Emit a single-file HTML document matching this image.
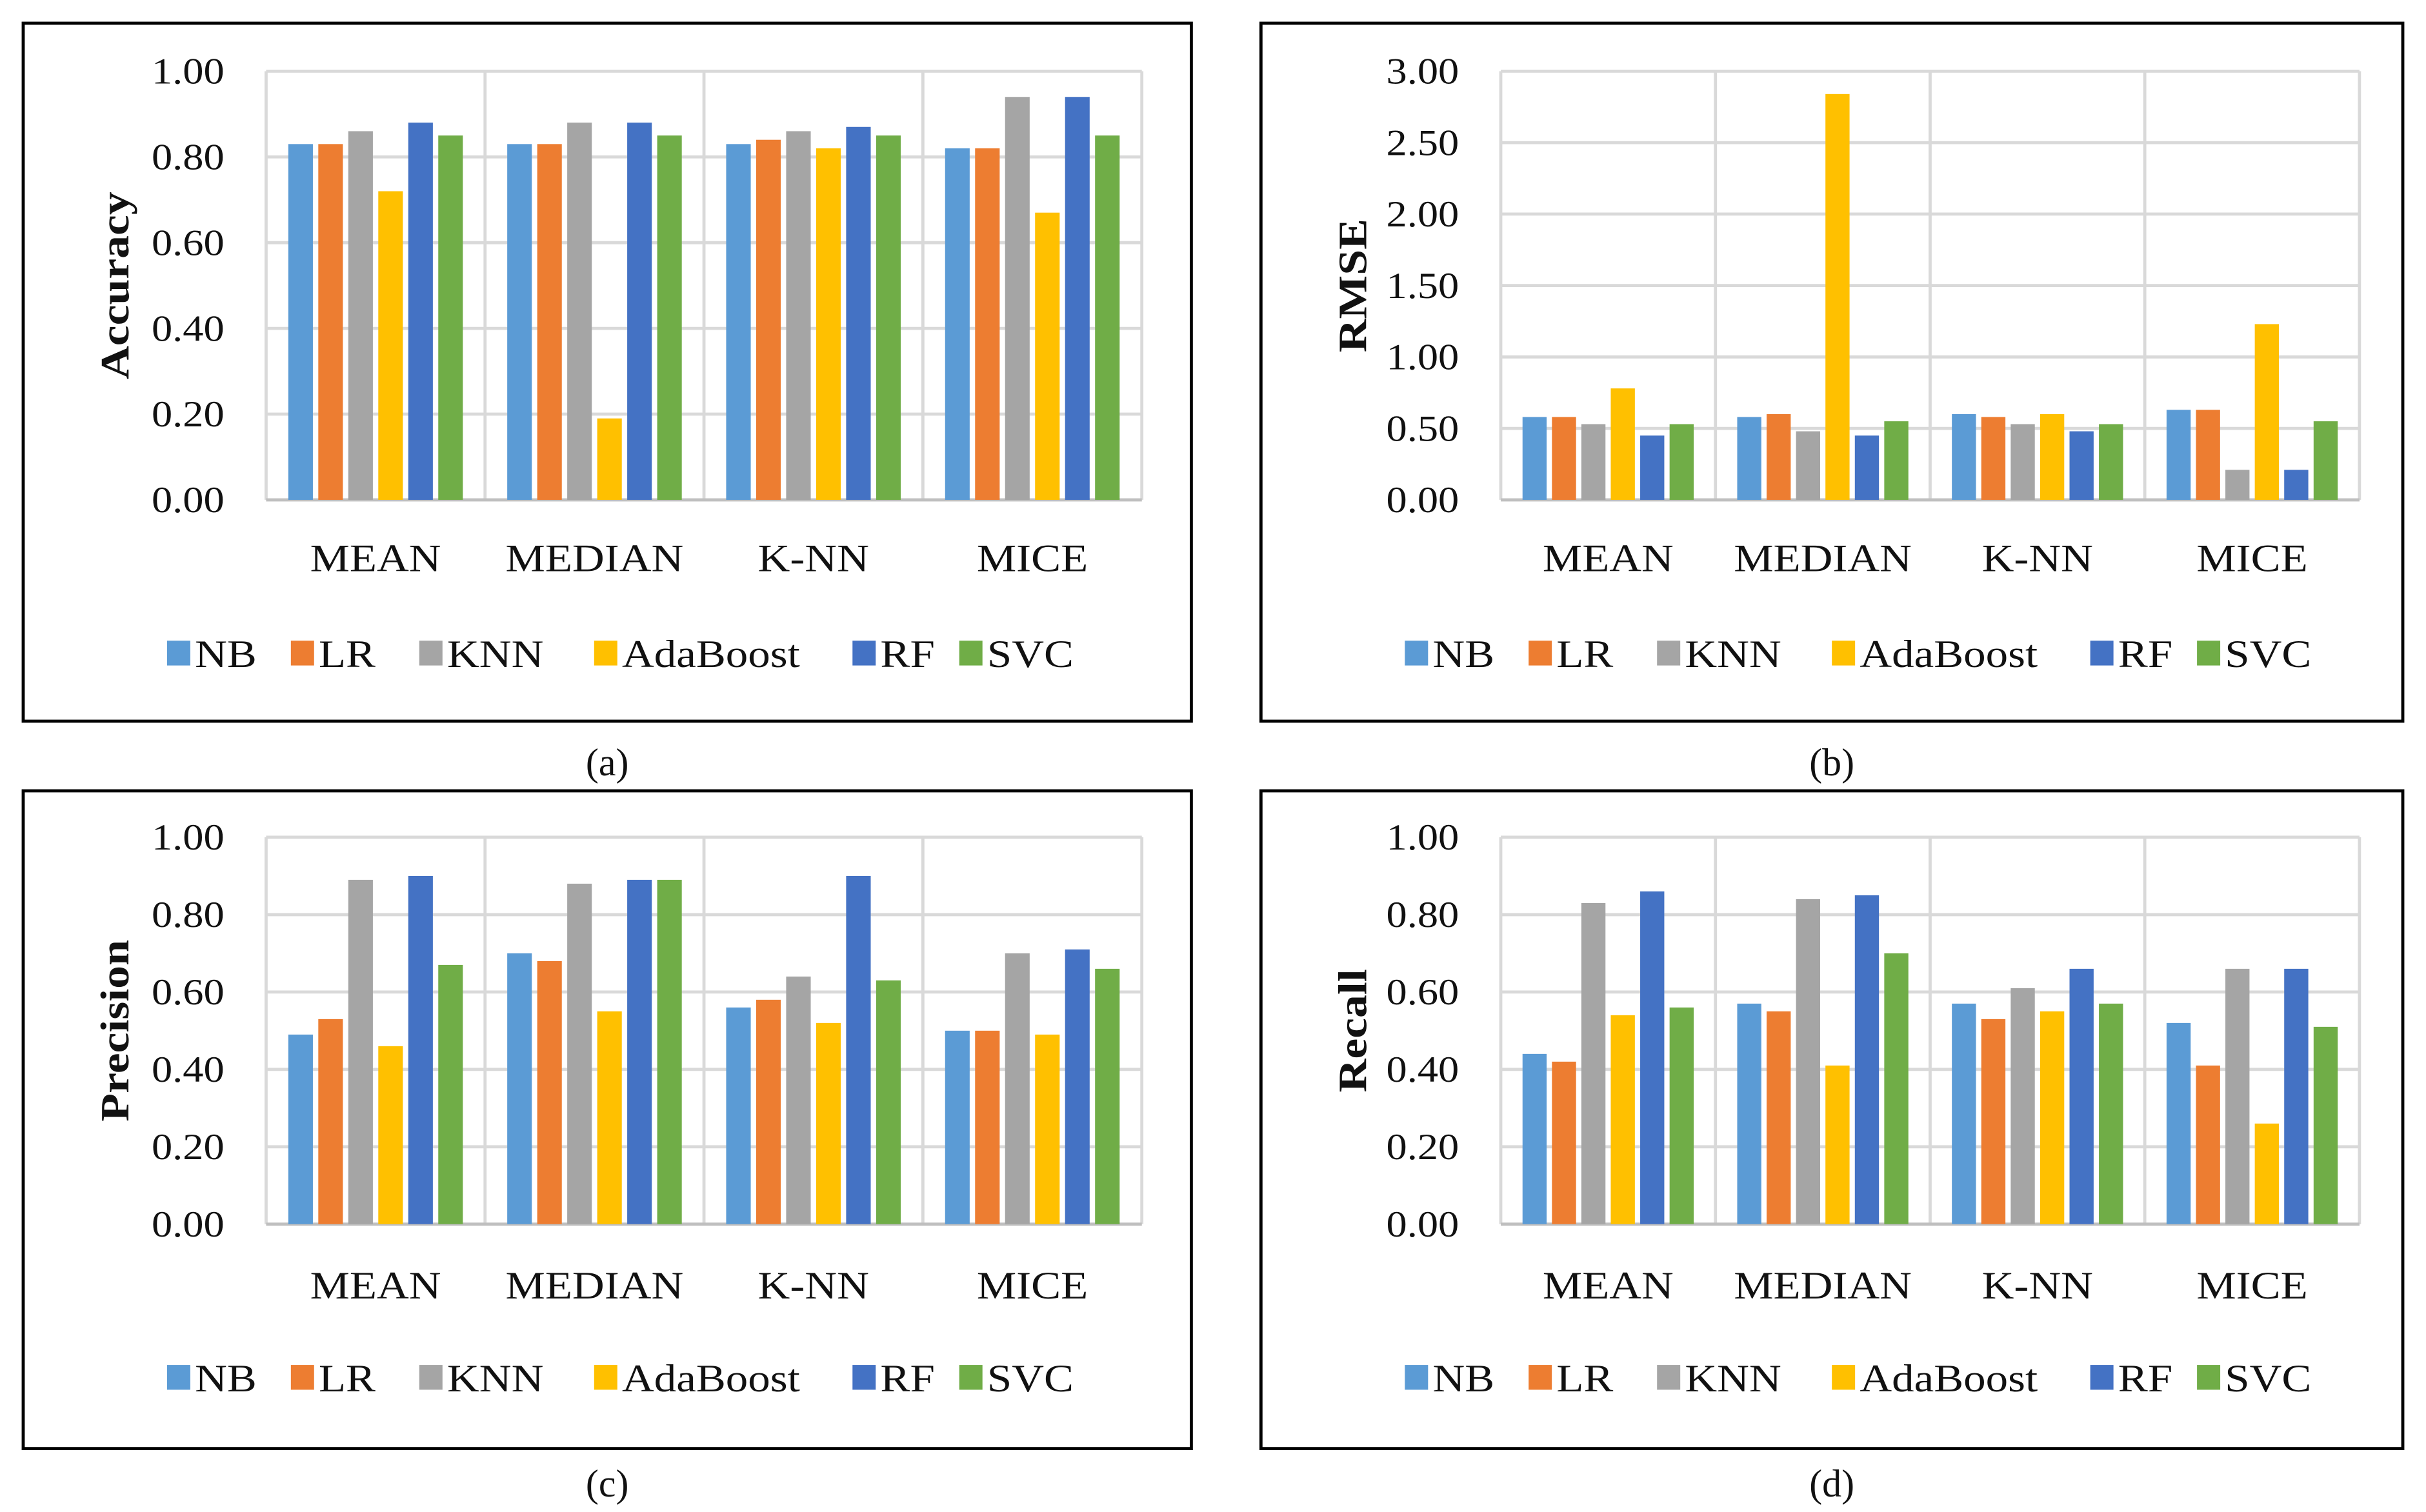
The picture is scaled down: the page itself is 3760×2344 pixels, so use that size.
<!DOCTYPE html>
<html><head><meta charset="utf-8"><style>
html,body{margin:0;padding:0;background:#fff;}
svg{display:block;}
text{font-family:"Liberation Serif",serif;fill:#111;}
</style></head><body>
<svg id="fig" width="3760" height="2344" viewBox="0 0 1568 977" preserveAspectRatio="none" xmlns="http://www.w3.org/2000/svg"></svg>
<script>
const categories = ["MEAN","MEDIAN","K-NN","MICE"];
const seriesNames = ["NB","LR","KNN","AdaBoost","RF","SVC"];
const seriesColors = ["#5b9bd5","#ed7d31","#a5a5a5","#ffc000","#4472c4","#70ad47"];
const accuracyValues = [[0.83,0.83,0.86,0.72,0.88,0.85],[0.83,0.83,0.88,0.19,0.88,0.85],[0.83,0.84,0.86,0.82,0.87,0.85],[0.82,0.82,0.94,0.67,0.94,0.85]];
const rmseValues = [[0.58,0.58,0.53,0.78,0.45,0.53],[0.58,0.60,0.48,2.84,0.45,0.55],[0.60,0.58,0.53,0.60,0.48,0.53],[0.63,0.63,0.21,1.23,0.21,0.55]];
const precisionValues = [[0.49,0.53,0.89,0.46,0.90,0.67],[0.70,0.68,0.88,0.55,0.89,0.89],[0.56,0.58,0.64,0.52,0.90,0.63],[0.50,0.50,0.70,0.49,0.71,0.66]];
const recallValues = [[0.44,0.42,0.83,0.54,0.86,0.56],[0.57,0.55,0.84,0.41,0.85,0.70],[0.57,0.53,0.61,0.55,0.66,0.57],[0.52,0.41,0.66,0.26,0.66,0.51]];
const unitTicks = ["0.00","0.20","0.40","0.60","0.80","1.00"];
const rmseTicks = ["0.00","0.50","1.00","1.50","2.00","2.50","3.00"];

const NS="http://www.w3.org/2000/svg";
const svg=document.getElementById('fig');
function el(tag,attrs,parent){const e=document.createElementNS(NS,tag);for(const k in attrs)e.setAttribute(k,attrs[k]);(parent||svg).appendChild(e);return e;}
function widen(t,f){const L=t.getComputedTextLength();if(L>0){t.setAttribute('textLength',(L*f).toFixed(1));t.setAttribute('lengthAdjust','spacingAndGlyphs');}}

const panels=[
 {id:'accuracy',title:'Accuracy',cap:'(a)',data:accuracyValues,ticks:unitTicks,max:1,box:[15,15,755,451],plot:[172,46,738,323],catY:369,legY:422,capY:501},
 {id:'rmse',title:'RMSE',cap:'(b)',data:rmseValues,ticks:rmseTicks,max:3,box:[815,15,738,451],plot:[970,46,1525,323],catY:369,legY:422,capY:501},
 {id:'precision',title:'Precision',cap:'(c)',data:precisionValues,ticks:unitTicks,max:1,box:[15,511,755,425],plot:[172,541,738,791],catY:839,legY:890,capY:967},
 {id:'recall',title:'Recall',cap:'(d)',data:recallValues,ticks:unitTicks,max:1,box:[815,511,738,425],plot:[970,541,1525,791],catY:839,legY:890,capY:967}
];
const legOff=[93,173,256,369,536,605];

panels.forEach(p=>{
  const g=el('g',{});
  
  
  const [bx,by,bw,bh]=p.box;
  const frame=el('rect',{x:bx,y:by,width:bw,height:bh,fill:'none',stroke:'#000','stroke-width':2},g);
  
  
  const [x0,y0,x1,y1]=p.plot;
  const yScale=v=>y1-(v/p.max)*(y1-y0);
  const gw=(x1-x0)/categories.length;
  const xScale=(ci,si)=>{const slot=gw*0.137;const off=(gw-6*slot)/2;return x0+ci*gw+off+si*slot+slot*0.09;};
  const bwid=gw*0.137*0.82;
  p.ticks.forEach((t,i)=>{
    const v=parseFloat(t);const y=yScale(v);
    const ln=el('line',{x1:x0,x2:x1,y1:y,y2:y,stroke:'#d9d9d9','stroke-width':2},g);
    
    
    const tx=el('text',{x:x0-27,y:y+8,'text-anchor':'end','font-size':24},g);
    tx.textContent=t;
    
    
    widen(tx,1.12);
  });
  for(let i=0;i<=categories.length;i++){
    const x=x0+i*gw;
    const ln=el('line',{x1:x,x2:x,y1:y0,y2:y1,stroke:'#d9d9d9','stroke-width':2},g);
    
    
  }
  const ax=el('line',{x1:x0,x2:x1,y1:y1,y2:y1,stroke:'#bfbfbf','stroke-width':2},g);
  
  
  p.data.forEach((vals,ci)=>{
    vals.forEach((v,si)=>{
      const y=yScale(v);
      const r=el('rect',{x:xScale(ci,si),y:y,width:bwid,height:y1-y,fill:seriesColors[si]},g);
      
      
    });
    const ct=el('text',{x:x0+ci*gw+gw/2,y:p.catY,'text-anchor':'middle','font-size':25},g);
    ct.textContent=categories[ci];
    
    
    widen(ct,1.15);
  });
  const cy=(y0+y1)/2;
  const yt=el('text',{x:bx+62,y:cy,'text-anchor':'middle','font-size':26,'font-weight':'bold',transform:`rotate(-90 ${bx+62} ${cy})`,'dominant-baseline':'middle'},g);
  yt.textContent=p.title;
  
  
  widen(yt,1.15);
  seriesNames.forEach((n,si)=>{
    const lx=bx+legOff[si];
    const sq=el('rect',{x:lx,y:p.legY-8,width:15,height:16,fill:seriesColors[si]},g);
    
    
    const lt=el('text',{x:lx+18,y:p.legY+9,'font-size':25},g);
    lt.textContent=n;
    
    
    widen(lt,1.15);
  });
  const cap=el('text',{x:bx+bw/2,y:p.capY,'text-anchor':'middle','font-size':25},svg);
  cap.textContent=p.cap;
  
  
});
</script>
</body></html>
